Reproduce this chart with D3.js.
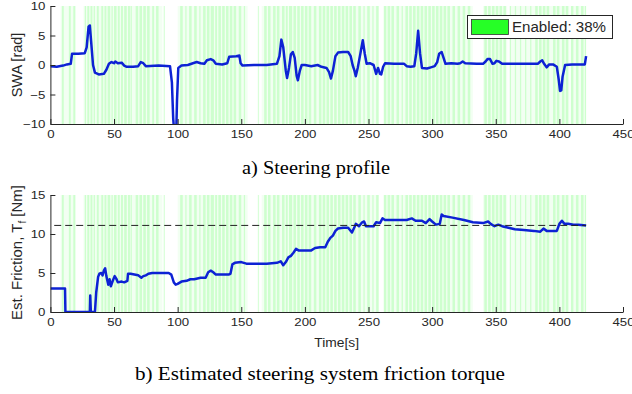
<!DOCTYPE html>
<html><head><meta charset="utf-8">
<script src="https://cdn.jsdelivr.net/npm/d3@7"></script>
<style>
html,body{margin:0;padding:0;background:#fff;}
svg{display:block;}
text{font-family:"Liberation Sans",Arial,sans-serif;fill:#262626;}
.cap{font-family:"Liberation Serif","Times New Roman",serif;fill:#000;}
</style></head>
<body>
<svg id="chart" width="632" height="394"></svg>
<script>
// ---------- data ----------
const xTicks = [0,50,100,150,200,250,300,350,400,450];
const swaTicks = [-10,-5,0,5,10];
const fricTicks = [0,5,10,15];
const referenceFriction = 11.1;
const enabledLabel = "Enabled: 38%";

// enabled intervals [start, end] in seconds
const enabledIntervals = [
 [9,10.5],[14.5,16],[18,19.5],[27,28],[29,30.5],[31.5,33],[34,35],[36.5,38],[40,41.5],[42.5,44],
 [45,47],[48,49],[50,52],[53,54.5],[55.5,57],[58,60],[61,62.5],[63,64],[67,69],[70,72],[73,75],
 [76,78],[80,81.5],[83,85],[89,90],[102,104],[106,107],[109,111],[113,115],[117,118],[120,122],
 [123,125],[126,128.5],[129.5,131],[132,134],[135,137],[138,140],[141,143],[144,146],[148,150],
 [152,153],[163,164],[168,170],[171,173],[175,177],[178,180],[182,184],[185,186.5],[187.5,190],
 [191,193],[194,196],[197,199],[200,202],[203,205],[207,209],[211,213],[214,216],[217,219],
 [220,222],[223,225],[226,228],[229,231],[232,234],[235,237],[238,240],[242,244],[246,247],
 [249,251],[253,254],[256,258],[262,264],[265,267],[268,270],[272,274],[276,277],[279,281],
 [282,284],[285,287],[288,290],[291,293],[294,296],[297,299],[300,302],[303,305],[306,308],
 [309,311],[312,314],[316,318],[320,322],[324,326],[328,330],[341,343],[344,346],[347,349],
 [350,352],[353,355],[356,358],[361,362],[365,366],[369,370],[373,374],[377,378],[381,383],
 [384,386],[387,389],[390,392],[395,397],[398,400],[402,404],[405,407],[409,411],[413,415],
 [417,419],[420,421]
];
// faint enabled stretches (short, sparse activations)
const faintIntervals = [[8,20],[26,88],[100,155],[166,258],[262,332],[340,359],[361,408],[409,421]];

// steering wheel angle [rad]
const swaTime = [0,5,10,13,16,17,22,27,28.5,30,31,32,33.5,35,38,42,44,46,48,50,51,53,56,58,60,65,69,71,73,75,85,94,
 95.5,96.5,97,99,99.5,100.5,103,108,112,115,118,121,123,126,128,130,135,139,140.5,146,148.5,149.5,151,160,170,178,
 180,181.5,183,185,186,187.5,189,190.5,192,193.5,194.5,196,197.5,200,205,210,213,217,219,220.5,222,224,226,230,234,
 236,237.5,239,240,241.5,243.5,245.5,247,248.5,251,254,256,257.5,259,260,261.5,263,270,278,280,283,286,287.5,289,
 290.5,292,296,299,302,304,305.5,307.5,309,310.5,315,320,322,324,326,335,340,342,343.5,345.5,347.5,349,350.5,352.5,
 355,365,375,383,385,386.5,388,390,392,395,398,399.5,400.5,401.5,402.5,404.5,410,415,420,421];
const swaValue = [-0.2,-0.3,-0.1,0.1,0.2,1.9,1.9,2.0,3,6.5,6.7,4,0,-1.3,-1.6,-1.5,-0.8,0.2,0.5,0.3,0.6,0.3,0.4,-0.1,-0.3,-0.3,-0.2,0.5,0.3,-0.2,-0.1,-0.2,
 -3,-9,-10.5,-10.5,-6,-0.5,-0.1,0,0.3,0.5,0.3,0.2,0.8,1.0,0.8,0.2,0.1,0.3,1.4,1.5,1.6,0.3,-0.1,0,0,0.2,
 1.5,4.3,3,-1,-2.2,-0.5,1.8,2.2,1.2,-1.8,-2.6,-1,0,0,-0.2,0,-0.3,-0.5,-1.2,-2.3,-1,1.5,2.1,2.2,2.2,
 1.5,0,-1,-1.9,-0.5,1.8,4.2,2,0.2,0.3,0,-1.5,-0.5,-1.5,-1.6,-0.3,0.3,0.2,0.2,-0.2,-0.3,-0.2,2,5.8,
 2,-0.5,-0.6,-0.4,-0.2,0.5,1.9,2.2,1.2,0.2,0.3,0.2,0.3,0.6,0.3,0.2,0.2,0.6,1.0,1.0,0.2,0.3,0.7,0.6,
 0.2,0.2,0.2,0.2,0.6,0.8,0.2,-0.4,0.1,0.1,-0.3,-2.5,-4.4,-4.3,-2,0,0.1,0.1,0.1,1.5];

// estimated friction torque [Nm]
const fricTime = [0,11.5,11.8,31,31.3,31.8,35,36,37.5,38.5,40,41,42,43,44,45.5,46.5,47.5,49,50.5,52,53,56,58,60.5,61,63,66,69,71.5,73,75,
 77,80,85,90,93,95,97,98.5,100,103,107,110,113,118,122,124,126,128,130,135,140,141.5,143,145,150,154,160,170,178,181,183,185,
 187,189,191,193,195,200,205,208,212,216,218,220,222,224,226,230,234,237,239,240,242.5,245,246.5,248,254,256,259,261,263,270,
 280,284,287,292,295,298,300,303,306,307.5,309,316,325,332,340,344,346,349,352,355,360,365,372,380,385,387.5,390,398,400,402,
 404,407,411,415,421];
const fricValue = [3,3,0,0,2.1,0,0,2.5,4.5,4.9,5.0,4.7,5.3,5.6,4.6,3.5,4.2,3.3,4.0,4.6,4.2,3.8,3.9,3.8,4.0,4.9,4.9,4.8,4.7,4.4,4.6,4.7,
 4.9,5.0,5.0,5.0,5.0,4.8,3.8,3.5,3.6,3.9,4.0,4.2,4.2,4.4,4.4,5.1,5.3,5.1,4.8,4.8,4.8,4.9,6.1,6.3,6.4,6.2,6.2,6.2,6.3,6.5,6.0,6.4,
 7.0,7.2,7.6,8.1,7.9,7.9,7.9,8.2,8.3,8.3,9.0,9.5,9.8,10.4,10.7,10.8,10.8,10.2,10.9,11.3,11.0,11.5,11.6,11.0,11.0,11.5,11.4,12.0,11.8,11.8,
 11.8,12.0,11.7,11.7,11.4,11.9,11.6,11.2,11.3,12.5,12.3,12.1,11.8,11.5,11.4,11.6,11.3,11.0,11.2,11.0,10.8,10.6,10.5,10.4,10.3,10.7,10.4,10.4,11.3,11.7,
 11.3,11.3,11.2,11.2,11.1];

// ---------- drawing ----------
const svg = d3.select("#chart");
const axisColor = "#262626";
const green = "#00ff00";
const lineColor = "#0d22d4";

const x = d3.scaleLinear().domain([0,450]).range([50.4,623]);
const ySwa = d3.scaleLinear().domain([-10,10]).range([124,6]);
const yFric = d3.scaleLinear().domain([0,15]).range([312,195]);

function stretch(sel, k){
  sel.each(function(){
    const w = this.getComputedTextLength();
    d3.select(this).attr("textLength", w*k).attr("lengthAdjust","spacingAndGlyphs");
  });
}

function panel(id, y, yTicks, tVals, vVals){
  const g = svg.append("g");
  const [yb, yt] = y.range();
  svg.append("clipPath").attr("id","clip"+id)
    .append("rect").attr("x",x.range()[0]).attr("y",yt).attr("width",x.range()[1]-x.range()[0]).attr("height",yb-yt);
  const inner = g.append("g").attr("clip-path","url(#clip"+id+")");
  inner.selectAll("rect.faint").data(faintIntervals).join("rect")
    .attr("class","faint")
    .attr("x", d=>x(d[0])).attr("width", d=>x(d[1])-x(d[0]))
    .attr("y", yt).attr("height", yb-yt)
    .attr("fill", green).attr("fill-opacity", 0.05);
  inner.selectAll("rect.band").data(enabledIntervals).join("rect")
    .attr("class","band")
    .attr("x", d=>x(d[0])).attr("width", d=>Math.max(0.8, x(d[1])-x(d[0])))
    .attr("y", yt).attr("height", yb-yt)
    .attr("fill", green).attr("fill-opacity", 0.15);
  const pts = tVals.map((t,i)=>[t, vVals[i]]);
  inner.append("path").datum(pts)
    .attr("d", d3.line().x(d=>x(d[0])).y(d=>y(d[1])))
    .attr("fill","none").attr("stroke",lineColor).attr("stroke-width",2.5)
    .attr("stroke-linejoin","round");
  // axes
  const xa = g.append("g").attr("transform",`translate(0,${yb})`)
    .call(d3.axisBottom(x).tickValues(xTicks).tickSizeInner(-5).tickSizeOuter(0).tickPadding(6));
  const ya = g.append("g").attr("transform",`translate(${x.range()[0]},0)`)
    .call(d3.axisLeft(y).tickValues(yTicks).tickSizeInner(-5).tickSizeOuter(0).tickPadding(5));
  [xa,ya].forEach(a=>{
    a.select(".domain").attr("stroke",axisColor).attr("stroke-width",1);
    a.selectAll(".tick line").attr("stroke",axisColor);
    a.selectAll(".tick text").attr("font-size",11.5).attr("fill",axisColor)
      .attr("font-family","Liberation Sans, Arial, sans-serif");
    stretch(a.selectAll(".tick text"), 1.15);
  });
  return g;
}

panel("a", ySwa, swaTicks, swaTime, swaValue);
panel("b", yFric, fricTicks, fricTime, fricValue);

// reference dashed line
svg.append("line")
  .attr("x1", x(3)).attr("x2", x(421))
  .attr("y1", yFric(referenceFriction)).attr("y2", yFric(referenceFriction))
  .attr("stroke","#222").attr("stroke-width",1).attr("stroke-dasharray","7,4");

// axis labels
svg.append("text").attr("transform",`translate(22,${(ySwa.range()[0]+ySwa.range()[1])/2}) rotate(-90)`)
  .attr("text-anchor","middle").attr("font-size",14.5).text("SWA [rad]");
const fl = svg.append("text").attr("transform",`translate(22,${(yFric.range()[0]+yFric.range()[1])/2 - 1}) rotate(-90)`)
  .attr("text-anchor","middle").attr("font-size",15);
fl.append("tspan").text("Est. Friction, T");
fl.append("tspan").attr("font-size",10).attr("dy",4).text("f");
fl.append("tspan").attr("dy",-4).text(" [Nm]");

svg.append("text").attr("x",(x.range()[0]+x.range()[1])/2).attr("y",347)
  .attr("text-anchor","middle").attr("font-size",12).text("Time[s]")
  .call(s=>stretch(s,1.15));

// legend
const lg = svg.append("g");
lg.append("rect").attr("x",467.5).attr("y",15.5).attr("width",145).attr("height",23)
  .attr("fill","#fff").attr("stroke","#262626").attr("stroke-width",1);
lg.append("rect").attr("x",471.5).attr("y",19.5).attr("width",37).attr("height",15)
  .attr("fill",green).attr("fill-opacity",0.85).attr("stroke","#333").attr("stroke-width",0.8);
lg.append("text").attr("x",512).attr("y",32).attr("font-size",14).text(enabledLabel)
  .attr("textLength",94).attr("lengthAdjust","spacingAndGlyphs");

// captions
svg.append("text").attr("class","cap").attr("x",316).attr("y",174).attr("text-anchor","middle")
  .attr("font-size",19).text("a) Steering profile")
  .attr("textLength",148).attr("lengthAdjust","spacingAndGlyphs");
svg.append("text").attr("class","cap").attr("x",320).attr("y",380).attr("text-anchor","middle")
  .attr("font-size",19).text("b) Estimated steering system friction torque")
  .attr("textLength",370).attr("lengthAdjust","spacingAndGlyphs");
</script>
</body></html>
